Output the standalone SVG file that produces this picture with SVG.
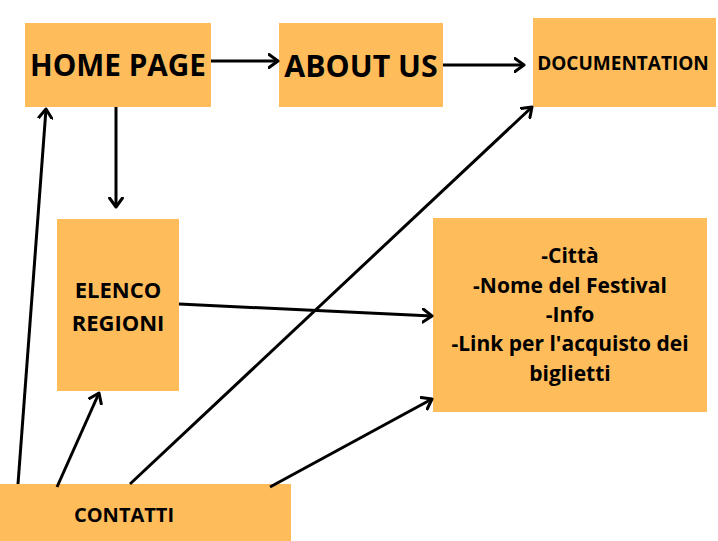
<svg xmlns="http://www.w3.org/2000/svg" width="718" height="541" viewBox="0 0 718 541">
<style>
.box{fill:#FEBC5A}
.t{font-family:"Open Sans","Noto Sans","Liberation Sans",sans-serif;font-weight:bold;fill:#000;text-anchor:middle}
.c{stroke:#000;stroke-width:3;fill:none;marker-end:url(#ah)}
</style>
<defs>
<marker id="ah" markerUnits="userSpaceOnUse" viewBox="0 0 12 16" refX="10" refY="8" markerWidth="12" markerHeight="16" orient="auto">
<path d="M1,1.5 L10,8 L1,14.5" fill="none" stroke="#000" stroke-width="3" stroke-linecap="round" stroke-linejoin="round"/>
</marker>
</defs>
<rect width="718" height="541" fill="#fff"/>
<g id="home"><rect class="box" x="25" y="23" width="186" height="84"/><text class="t" x="118" y="76" font-size="29.7">HOME PAGE</text></g>
<g id="about"><rect class="box" x="279" y="23" width="164" height="84"/><text class="t" x="361" y="77" font-size="30.3">ABOUT US</text></g>
<g id="doc"><rect class="box" x="533" y="18" width="183" height="89"/><text class="t" x="623" y="70" font-size="19">DOCUMENTATION</text></g>
<g id="elenco"><rect class="box" x="57" y="219" width="122" height="172"/><text class="t" x="118" y="298" font-size="22">ELENCO</text><text class="t" x="118" y="331" font-size="22">REGIONI</text></g>
<g id="info"><rect class="box" x="433" y="218" width="274" height="194"/>
<text class="t" x="570" y="263" font-size="21">-Città</text>
<text class="t" x="570" y="293" font-size="21">-Nome del Festival</text>
<text class="t" x="570" y="322" font-size="21">-Info</text>
<text class="t" x="570" y="351" font-size="21">-Link per l'acquisto dei</text>
<text class="t" x="570" y="381" font-size="21">biglietti</text>
</g>
<g id="contatti"><rect class="box" x="0" y="484" width="291" height="57"/><text class="t" x="124" y="522" font-size="20">CONTATTI</text></g>
<g id="connectors">
<line class="c" x1="211" y1="61" x2="278" y2="61"/>
<line class="c" x1="443" y1="65" x2="524" y2="65"/>
<line class="c" x1="116" y1="107" x2="116" y2="207"/>
<line class="c" x1="179" y1="304" x2="432" y2="316"/>
<line class="c" x1="18" y1="484" x2="46" y2="109"/>
<line class="c" x1="57" y1="487" x2="99" y2="393"/>
<line class="c" x1="130" y1="484" x2="532" y2="107"/>
<line class="c" x1="270" y1="487" x2="432" y2="399"/>
</g>
</svg>
